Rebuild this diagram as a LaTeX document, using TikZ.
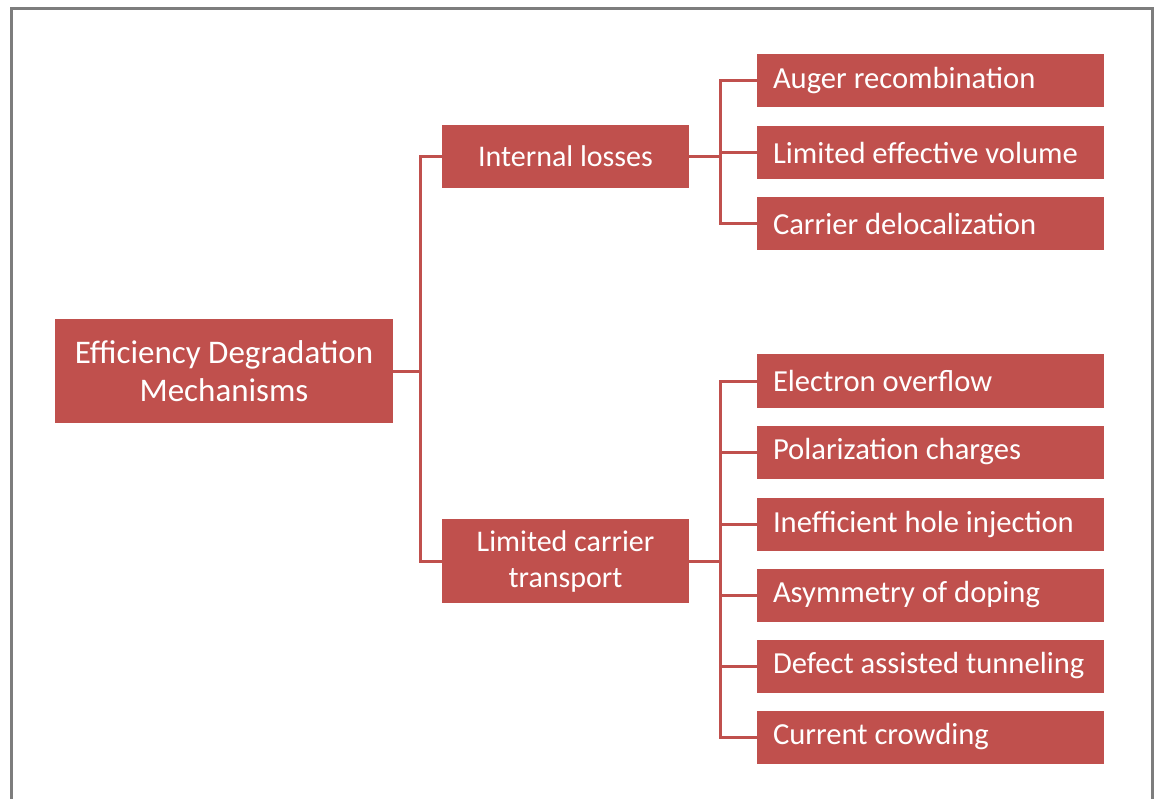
\documentclass[tikz,border=0pt]{standalone}
\usepackage{fontspec}
\setmainfont{Carlito}
\usetikzlibrary{calc}
\definecolor{boxred}{RGB}{192,80,77}
\definecolor{framegray}{RGB}{125,125,125}
\tikzset{
  -|-/.style={
    to path={
      (\tikztostart) -| ($(\tikztostart)!#1!(\tikztotarget)$) |- (\tikztotarget)
      \tikztonodes
    }
  },
  -|-/.default=0.5,
}

\begin{document}
\begin{tikzpicture}
  [
    x=1pt, y=-1pt,
    box/.style =
      {fill=boxred, text=white, inner sep=0pt, outer sep=0pt,
       font=\fontsize{30}{36}\selectfont},
    leaf/.style =
      {box, minimum width=347pt, minimum height=53pt, text width=315pt,
       font=\fontsize{30.6}{36}\selectfont, align=left,
       execute at begin node={\spaceskip=0pt\xspaceskip=0pt}},
    link/.style={draw=boxred, line width=3pt}
  ]
  \useasboundingbox (0,0) rectangle (1156,799);
  \draw[framegray, line width=3pt] (11,799) |- (1152,9) -- (1152,799);

  \node [box, align=center, minimum width=338pt, minimum height=104pt,
         font=\fontsize{33}{38}\selectfont] at (224, 371) (edm)
        {Efficiency Degradation\\Mechanisms};
  \node [box, minimum width=247pt, minimum height=63pt] at (565.5, 156.5) (il)
        {Internal losses};
  \node [box, align=center, minimum width=247pt, minimum height=84pt]
        at (565.5, 561) (lct) {Limited carrier\\transport};

  \node [leaf] at (930.5, 81)  (auger) {Auger recombination};
  \node [leaf] at (930.5, 153) (vol)   {Limited effective volume};
  \node [leaf] at (930.5, 224) (deloc) {Carrier delocalization};

  \node [leaf] at (930.5, 381) (over)  {Electron overflow};
  \node [leaf] at (930.5, 452) (pol)   {Polarization charges};
  \node [leaf] at (930.5, 524) (hole)  {Inefficient hole injection};
  \node [leaf] at (930.5, 595) (dop)   {Asymmetry of doping};
  \node [leaf] at (930.5, 666) (tun)   {Defect assisted tunneling};
  \node [leaf] at (930.5, 737) (crowd) {Current crowding};

  \draw[link] (edm.east) to[-|-=0.57] (il.west);
  \draw[link] (edm.east) to[-|-=0.57] (lct.west);

  \draw[link] (il.east) to[-|-=0.46] (auger.west);
  \draw[link] (il.east) to[-|-=0.46] (vol.west);
  \draw[link] (il.east) to[-|-=0.46] (deloc.west);

  \draw[link] (lct.east) to[-|-=0.46] (over.west);
  \draw[link] (lct.east) to[-|-=0.46] (pol.west);
  \draw[link] (lct.east) to[-|-=0.46] (hole.west);
  \draw[link] (lct.east) to[-|-=0.46] (dop.west);
  \draw[link] (lct.east) to[-|-=0.46] (tun.west);
  \draw[link] (lct.east) to[-|-=0.46] (crowd.west);

\end{tikzpicture}
\end{document}
